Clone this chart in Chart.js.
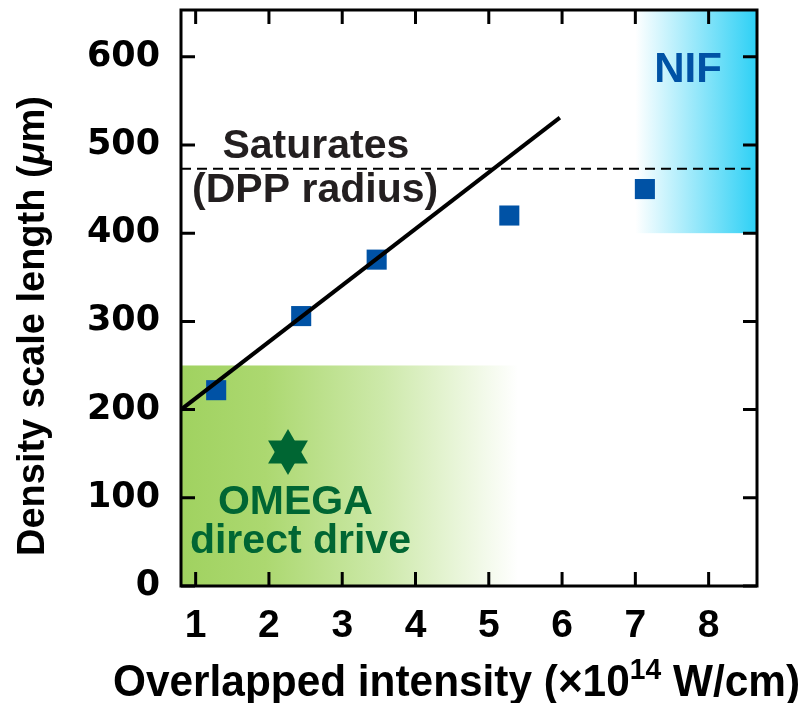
<!DOCTYPE html>
<html>
<head>
<meta charset="utf-8">
<script src="https://cdn.jsdelivr.net/npm/chart.js@4"></script>
<style>
html, body { margin: 0; padding: 0; background: #fff; }
</style>
</head>
<body>
<canvas id="chart" width="805" height="703"></canvas>
<script>
// measured points (x = overlapped intensity, y = density scale length)
const intensity = [1.28, 2.44, 3.47, 5.28, 7.13];
const scaleLength = [222, 306, 370, 420, 450];
// linear fit
const fitIntensity = [0.8, 5.97];
const fitLength = [200, 531];
// saturation level (DPP radius)
const dppIntensity = [0.8, 8.57];
const dppRadius = [473, 473];
// OMEGA direct drive marker
const omegaIntensity = [2.26];
const omegaLength = [152];
// shaded regimes
const omegaRegionX = [0.8, 5.4];
const omegaRegionY = [0, 250];
const nifRegionX = [7.0, 8.66];
const nifRegionY = [400, 653];
// axes
const xTicks = [1, 2, 3, 4, 5, 6, 7, 8];
const yTicks = [0, 100, 200, 300, 400, 500, 600];
const xRange = [0.8, 8.66];
const yRange = [0, 653];

const toPoints = (xs, ys) => xs.map((x, i) => ({ x: x, y: ys[i] }));

const FONT = '"Liberation Sans", Arial, sans-serif';

// gradient boxes behind the data
const regionsPlugin = {
  id: 'regions',
  beforeDatasetsDraw(chart) {
    const { ctx, chartArea, scales } = chart;
    const x = scales.x, y = scales.y;
    ctx.save();
    ctx.beginPath();
    ctx.rect(chartArea.left, chartArea.top, chartArea.right - chartArea.left, chartArea.bottom - chartArea.top);
    ctx.clip();

    let x0 = x.getPixelForValue(omegaRegionX[0]), x1 = x.getPixelForValue(omegaRegionX[1]);
    let y0 = y.getPixelForValue(omegaRegionY[1]), y1 = y.getPixelForValue(omegaRegionY[0]);
    let g = ctx.createLinearGradient(x0, 0, x1, 0);
    g.addColorStop(0, 'rgb(160,210,96)');
    g.addColorStop(0.25, 'rgb(172,216,112)');
    g.addColorStop(0.6, 'rgb(205,233,170)');
    g.addColorStop(1, 'rgba(255,255,255,1)');
    ctx.fillStyle = g;
    ctx.fillRect(x0, y0, x1 - x0, y1 - y0);

    x0 = x.getPixelForValue(nifRegionX[0]); x1 = x.getPixelForValue(nifRegionX[1]);
    y0 = y.getPixelForValue(nifRegionY[1]); y1 = y.getPixelForValue(nifRegionY[0]);
    g = ctx.createLinearGradient(x0, 0, x1, 0);
    g.addColorStop(0, 'rgb(255,255,255)');
    g.addColorStop(1, 'rgb(45,208,245)');
    ctx.fillStyle = g;
    ctx.fillRect(x0, y0, x1 - x0, y1 - y0);
    ctx.restore();
  }
};

// box frame with inward ticks on all sides, plus the labels
const framePlugin = {
  id: 'frame',
  afterDraw(chart) {
    const { ctx, chartArea, scales } = chart;
    const x = scales.x, y = scales.y;
    const L = chartArea.left, R = chartArea.right, T = chartArea.top, B = chartArea.bottom;
    const tick = 14;
    ctx.save();
    ctx.strokeStyle = '#000';
    ctx.lineWidth = 3;
    ctx.beginPath();
    xTicks.forEach(v => {
      const px = x.getPixelForValue(v);
      ctx.moveTo(px, B); ctx.lineTo(px, B - tick);
      ctx.moveTo(px, T); ctx.lineTo(px, T + tick);
    });
    yTicks.forEach(v => {
      const py = y.getPixelForValue(v);
      ctx.moveTo(L, py); ctx.lineTo(L + tick, py);
      ctx.moveTo(R, py); ctx.lineTo(R - tick, py);
    });
    ctx.stroke();
    ctx.strokeRect(L, T, R - L, B - T);

    // annotations
    ctx.textAlign = 'center';
    ctx.textBaseline = 'alphabetic';
    ctx.fillStyle = '#231f20';
    ctx.font = 'bold 41px ' + FONT;
    ctx.fillText('Saturates', x.getPixelForValue(2.64), y.getPixelForValue(485));
    ctx.fillText('(DPP radius)', x.getPixelForValue(2.63), y.getPixelForValue(435));
    ctx.fillStyle = '#0052a5';
    ctx.font = 'bold 42px ' + FONT;
    ctx.fillText('NIF', x.getPixelForValue(7.72), y.getPixelForValue(571));
    ctx.fillStyle = '#006633';
    ctx.font = 'bold 41px ' + FONT;
    ctx.fillText('OMEGA', x.getPixelForValue(2.36), y.getPixelForValue(82));
    ctx.fillText('direct drive', x.getPixelForValue(2.43), y.getPixelForValue(37));

    // x axis title with superscript, squeezed a bit like a condensed face
    ctx.fillStyle = '#000';
    ctx.textAlign = 'left';
    const xParts = [
      ['Overlapped intensity (\u00d710', 'bold 45px ' + FONT, 0],
      ['14', 'bold 30px ' + FONT, -17],
      [' W/cm)', 'bold 45px ' + FONT, 0]
    ];
    let w = 0;
    xParts.forEach(p => { ctx.font = p[1]; w += ctx.measureText(p[0]).width; });
    const sx = 687 / w;
    ctx.save();
    ctx.translate(113, 696);
    ctx.scale(sx, 1);
    let cx = 0;
    xParts.forEach(p => {
      ctx.font = p[1];
      ctx.fillText(p[0], cx, p[2]);
      cx += ctx.measureText(p[0]).width;
    });
    ctx.restore();

    // y axis title, rotated, italic mu
    const parts = [
      ['Density scale length (', 'bold 38px ' + FONT],
      ['\u03bc', 'italic bold 38px ' + FONT],
      ['m)', 'bold 38px ' + FONT]
    ];
    let total = 0;
    parts.forEach(p => { ctx.font = p[1]; total += ctx.measureText(p[0]).width; });
    ctx.translate(44, 326);
    ctx.rotate(-Math.PI / 2);
    let tx = -total / 2;
    parts.forEach(p => {
      ctx.font = p[1];
      ctx.fillText(p[0], tx, 0);
      tx += ctx.measureText(p[0]).width;
    });
    ctx.restore();
  }
};

const ctx = document.getElementById('chart').getContext('2d');
const chart = new Chart(ctx, {
  type: 'scatter',
  data: {
    datasets: [
      {
        data: toPoints(fitIntensity, fitLength),
        showLine: true,
        borderColor: '#000',
        borderWidth: 4,
        pointRadius: 0
      },
      {
        data: toPoints(dppIntensity, dppRadius),
        showLine: true,
        borderColor: '#000',
        borderWidth: 2,
        borderDash: [10, 6],
        pointRadius: 0
      },
      {
        data: toPoints(intensity, scaleLength),
        pointStyle: 'rect',
        pointRadius: 14.2,
        backgroundColor: '#0052a5',
        borderWidth: 0
      },
      {
        data: toPoints(omegaIntensity, omegaLength),
        pointStyle: 'triangle',
        pointRadius: 23,
        backgroundColor: '#006633',
        borderWidth: 0
      },
      {
        data: toPoints(omegaIntensity, omegaLength),
        pointStyle: 'triangle',
        rotation: 180,
        pointRadius: 23,
        backgroundColor: '#006633',
        borderWidth: 0
      }
    ]
  },
  options: {
    responsive: false,
    animation: false,
    layout: { autoPadding: false, padding: { top: 10, right: 48, left: 0, bottom: 0 } },
    plugins: { legend: { display: false }, tooltip: { enabled: false } },
    scales: {
      x: {
        type: 'linear',
        min: xRange[0],
        max: xRange[1],
        afterBuildTicks: s => { s.ticks = xTicks.map(v => ({ value: v })); },
        afterFit: s => { s.height = 117; s.paddingLeft = 0; s.paddingRight = 0; },
        grid: { display: false, drawTicks: false },
        border: { display: false },
        ticks: {
          color: '#000',
          padding: 17,
          maxRotation: 0,
          font: { family: FONT, weight: 'bold', size: 39 }
        }
      },
      y: {
        type: 'linear',
        min: yRange[0],
        max: yRange[1],
        afterBuildTicks: s => { s.ticks = yTicks.map(v => ({ value: v })); },
        afterFit: s => { s.width = 181; s.paddingTop = 0; s.paddingBottom = 0; },
        grid: { display: false, drawTicks: false },
        border: { display: false },
        ticks: {
          color: '#000',
          padding: 21,
          font: { family: '"DejaVu Sans"', weight: 'bold', size: 35 }
        }
      }
    }
  },
  plugins: [regionsPlugin, framePlugin]
});
</script>
</body>
</html>
